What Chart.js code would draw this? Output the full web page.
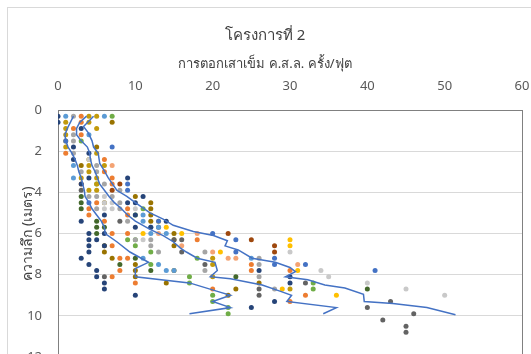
<!DOCTYPE html>
<html lang="th">
<head>
<meta charset="utf-8">
<title>โครงการที่ 2</title>
<script src="https://cdn.jsdelivr.net/npm/chart.js@4.4.1/dist/chart.umd.min.js"></script>
<style>
    html, body { margin: 0; padding: 0; background: #fff; overflow: hidden; }
    .frame { position: absolute; left: 7px; top: 7px; width: 536px; height: 380px; border: 1px solid #d9d9d9; }
    canvas { display: block; }
</style>
</head>
<body>
<div class="frame"><canvas id="pileChart" width="536" height="380"></canvas></div>
<script>
// Ejes
const xTicks = [0, 10, 20, 30, 40, 50, 60];
const yTicks = [0, 2, 4, 6, 8, 10, 12];

// Puntos [golpes/pie, profundidad m] por color de serie
const darkBlue = [[0,0.3],[0,0.6],[3,0.9],[2,1.8],[4,2.1],[2,2.4],[4,3.3],[9,3.3],[3,3.6],[11,4.2],[9,4.5],[10,4.5],[6,5.1],[10,5.1],[3,5.4],[14,5.4],[10,5.7],[12,5.7],[4,6.0],[6,6.0],[4,6.3],[5,6.3],[4,6.6],[6,6.6],[4,6.9],[3,7.2],[4,7.5],[5,7.8],[5,8.1],[6,8.4],[6,8.7],[10,9.0],[26,7.8],[30,8.1],[30,8.4],[28,9.3],[25,9.6]];
const blue = [[1,1.5],[7,1.8],[9,3.6],[9,3.9],[4,4.5],[13,5.4],[20,6.0],[23,6.3],[23,6.9],[28,7.2],[28,7.5],[32,7.5],[41,7.8]];
const lightBlue = [[1,0.3],[6,0.3],[4,1.2],[2,2.7],[2,3.3],[11,5.1],[11,5.4],[12,5.7],[13,5.7],[12,6.0],[14,6.0],[11,7.2],[13,7.5],[14,7.8],[15,7.8],[25,7.2]];
const orange = [[3,0.3],[3,0.6],[2,0.9],[3,1.2],[1,2.1],[6,2.4],[6,3.0],[7,3.3],[3,3.6],[7,3.6],[5,4.5],[4,4.8],[9,4.8],[4,5.1],[9,5.1],[6,5.4],[7,6.0],[9,6.0],[7,6.6],[8,7.2],[9,7.2],[8,7.8],[7,8.1],[10,8.4],[18,6.3],[20,8.7],[25,7.5],[25,7.8],[30,7.8],[32,9.0],[30,9.3]];
const lightOrange = [[7,2.7],[13,6.0],[18,6.0],[16,6.6],[20,6.9],[22,7.2],[23,7.2],[31,7.5]];
const grey = [[2,0.3],[2,1.2],[2,1.5],[2,2.1],[5,2.7],[3,3.0],[5,3.0],[6,3.6],[8,3.9],[4,4.2],[5,4.2],[7,4.2],[8,4.5],[5,4.8],[8,4.8],[9,5.4],[10,6.3],[12,6.3],[12,6.6],[13,6.9],[19,6.9],[26,7.2],[26,7.5],[19,7.8],[26,8.1],[28,8.7]];
const lightGrey = [[4,2.4],[6,4.2],[6,4.5],[7,4.5],[6,4.8],[7,4.8],[10,4.8],[11,6.3],[30,6.9],[34,7.8],[35,8.1],[40,8.4],[45,8.7],[50,9.0]];
const darkGrey = [[3,3.9],[8,5.4],[13,5.7],[15,6.3],[16,6.3],[16,6.9],[19,7.5],[6,8.1],[32,8.4],[26,8.7],[26,9.0],[43,9.3],[40,9.6],[46,9.9],[42,10.2],[45,10.5],[45,10.8]];
const gold = [[11,6.0],[13,5.4],[14,5.7],[16,6.0],[21,6.9],[30,6.3],[30,6.6],[31,7.8],[29,8.7],[36,9.0]];
const midGold = [[4,0.3],[5,0.3],[1,0.6],[4,0.6],[1,0.9],[5,0.9],[1,1.2],[1,1.5],[1,1.8],[5,2.1],[4,2.4],[4,2.7],[6,2.7],[4,3.0],[3,3.3],[5,3.3],[5,3.6],[4,3.9],[5,3.9],[20,7.2],[20,7.5],[20,8.1],[30,8.7]];
const darkGold = [[7,0.6],[5,1.8],[3,2.7],[10,4.2],[6,4.5],[12,4.5],[12,4.8],[12,5.1],[12,5.4],[15,6.0],[15,6.3],[15,6.6],[6,6.6],[6,6.9],[7,7.2],[10,7.5],[10,7.8],[10,8.1],[15,7.8],[14,8.4],[22,9.0],[23,8.7],[26,8.4]];
const green = [[7,0.3],[3,1.5],[5,3.6],[11,4.8],[10,5.1],[9,6.3],[10,6.3],[10,6.6],[12,6.9],[12,7.5],[18,7.2],[17,8.1],[17,8.4],[20,9.0],[20,9.3],[22,9.6],[22,9.9],[33,8.4],[33,8.7]];
const darkGreen = [[3,4.2],[3,4.5],[3,4.8],[5,5.4],[5,5.7],[6,5.7],[5,6.0],[10,7.2],[12,7.8],[8,7.5],[23,8.1],[40,8.7]];
const darkBrown = [[8,3.6],[7,3.9],[22,6.0],[25,6.3],[28,6.6],[28,6.9]];

// Curvas (azul)
const curveLow = [[2,0.3],[1.6,0.6],[1.2,0.9],[0.9,1.2],[1,1.5],[1.3,1.8],[1.8,2.1],[2.2,2.4],[2.5,2.7],[2.7,3.0],[3,3.3],[3.2,3.6],[3.4,3.9],[3.5,4.2],[4,4.5],[4.4,4.8],[5,5.1],[5.6,5.4],[6,5.7],[6.1,6.0],[7.6,6.4],[9.3,6.9],[11.7,7.4],[10,7.7],[10,8.1],[17,8.4],[20.5,8.8],[22.3,9.0],[20,9.3],[22.3,9.6],[17,9.9]];
const curveMid = [[3.7,0.3],[2.8,0.6],[2.4,0.9],[2.4,1.2],[3.0,1.5],[3.8,1.8],[4.1,2.1],[4.2,2.4],[4.4,2.7],[4.8,3.0],[5.1,3.3],[5.4,3.6],[6.0,3.9],[6.6,4.2],[7.3,4.5],[8.2,4.8],[9.0,5.1],[10.0,5.4],[11.9,5.8],[13.6,6.1],[14.9,6.4],[15.8,6.7],[16.6,6.9],[18,7.2],[20.3,7.4],[20.6,7.8],[19.7,8.1],[22.3,8.2],[26.4,8.5],[28.7,8.8],[30.2,9.0],[29.6,9.3],[36,9.6],[34.3,9.9]];
const curveHigh = [[4.6,0.3],[4.1,0.5],[3.3,0.8],[3.9,1.1],[4.4,1.5],[4.6,1.8],[5.2,2.1],[5.4,2.6],[5.9,2.9],[6.5,3.3],[7.6,3.9],[8.9,4.2],[10,4.5],[11.9,5.0],[13.6,5.3],[14.9,5.6],[17.5,5.9],[20.1,6.1],[21.9,6.35],[21.6,6.6],[23.3,6.8],[25.1,7.2],[28.1,7.4],[30,7.65],[30.7,7.85],[29.4,8.1],[32.3,8.25],[34.5,8.5],[37.1,8.65],[39.5,8.95],[39.6,9.3],[43.3,9.4],[47.7,9.6],[51.4,9.95]];

const pointSeries = [
    { data: darkBlue, color: '#264478' },
    { data: blue, color: '#4472C4' },
    { data: lightBlue, color: '#5B9BD5' },
    { data: orange, color: '#ED7D31' },
    { data: lightOrange, color: '#F4A373' },
    { data: grey, color: '#A5A5A5' },
    { data: lightGrey, color: '#C9C9C9' },
    { data: darkGrey, color: '#636363' },
    { data: gold, color: '#FFC000' },
    { data: midGold, color: '#C29A0C' },
    { data: darkGold, color: '#997300' },
    { data: green, color: '#70AD47' },
    { data: darkGreen, color: '#43682B' },
    { data: darkBrown, color: '#9E480E' }
];

function toXY(pairs) {
    return pairs.map(p => ({ x: p[0], y: p[1] }));
}

// Marco del área de trazado
const plotBorder = {
    id: 'plotBorder',
    beforeDatasetsDraw(chart) {
        const { ctx, chartArea: a } = chart;
        ctx.save();
        ctx.strokeStyle = '#808080';
        ctx.lineWidth = 1;
        ctx.strokeRect(Math.round(a.left) + 0.5, Math.round(a.top) + 0.5,
            Math.round(a.right - a.left), Math.round(a.bottom - a.top));
        ctx.restore();
    }
};

document.addEventListener('DOMContentLoaded', function() {
    Chart.defaults.font.family = 'Tahoma, "Noto Sans", "DejaVu Sans", sans-serif';
    Chart.defaults.color = '#595959';

    const datasets = [curveLow, curveMid, curveHigh].map(c => ({
        data: toXY(c),
        showLine: true,
        borderColor: '#4472C4',
        borderWidth: 1.5,
        pointRadius: 0,
        fill: false
    }));

    pointSeries.forEach(s => {
        datasets.push({
            data: toXY(s.data),
            backgroundColor: s.color,
            borderWidth: 0,
            pointRadius: 2.5,
            showLine: false
        });
    });

    new Chart(document.getElementById('pileChart'), {
        type: 'scatter',
        data: { datasets: datasets },
        plugins: [plotBorder],
        options: {
            responsive: false,
            animation: false,
            layout: { padding: { left: 0, right: 22, top: 0, bottom: 31 } },
            plugins: {
                legend: { display: false },
                tooltip: { enabled: false },
                title: {
                    display: true,
                    text: 'โครงการที่ 2',
                    color: '#404040',
                    font: { size: 15, weight: 'normal' },
                    padding: { top: 18.5, bottom: 6 }
                },
                subtitle: {
                    display: true,
                    text: 'การตอกเสาเข็ม ค.ส.ล. ครั้ง/ฟุต',
                    color: '#404040',
                    font: { size: 13 },
                    padding: { top: 6, bottom: 0 }
                }
            },
            scales: {
                x: {
                    type: 'linear',
                    position: 'top',
                    min: xTicks[0],
                    max: xTicks[xTicks.length - 1],
                    afterBuildTicks: axis => { axis.ticks = xTicks.map(v => ({ value: v })); },
                    afterFit: axis => { axis.height = 37.9; },
                    grid: { display: false },
                    border: { display: false },
                    ticks: { padding: 8, font: { size: 13 } }
                },
                y: {
                    type: 'linear',
                    reverse: true,
                    min: yTicks[0],
                    max: yTicks[yTicks.length - 1],
                    afterBuildTicks: axis => { axis.ticks = yTicks.map(v => ({ value: v })); },
                    afterFit: axis => { axis.width = 50; },
                    grid: { color: '#d9d9d9', drawTicks: false },
                    border: { display: false },
                    ticks: { padding: 16, font: { size: 13 } },
                    title: {
                        display: true,
                        text: 'ความลึก (เมตร)',
                        color: '#404040',
                        font: { size: 14 },
                        padding: { top: 12, bottom: 0 }
                    }
                }
            }
        }
    });
});
</script>
</body>
</html>
